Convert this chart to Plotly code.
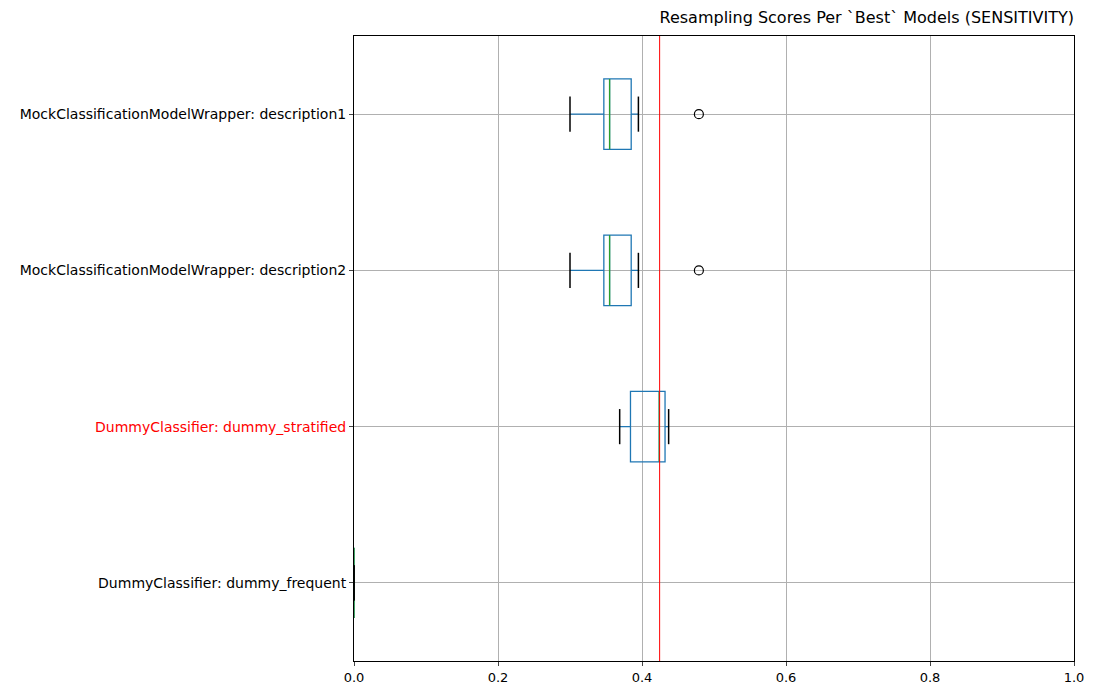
import plotly.graph_objects as go

# Model labels, bottom to top
models = ['DummyClassifier: dummy_frequent', 'DummyClassifier: dummy_stratified',
          'MockClassificationModelWrapper: description2', 'MockClassificationModelWrapper: description1']
lower = [0.0, 0.369, 0.300, 0.300]
q1 = [0.0, 0.384, 0.347, 0.347]
median = [0.0, 0.424, 0.355, 0.355]
q3 = [0.0, 0.432, 0.385, 0.385]
upper = [0.0, 0.437, 0.395, 0.395]
outliers = [[], [], [0.479], [0.479]]
reference_score = 0.4245

pos = list(range(len(models)))
fig = go.Figure()

fig.add_trace(go.Box(
    y=pos, q1=q1, median=median, q3=q3, lowerfence=lower, upperfence=upper,
    orientation='h', width=0.45, whiskerwidth=0, boxpoints=False,
    fillcolor='rgba(0,0,0,0)', line=dict(color='#1f77b4', width=1.3),
    showlegend=False, hoverinfo='skip'))

# medians, caps and outliers
for i in pos:
    fig.add_trace(go.Scatter(x=[median[i], median[i]], y=[i - 0.225, i + 0.225], mode='lines',
                             line=dict(color='#2ca02c', width=1.3), showlegend=False))
    for w in (lower[i], upper[i]):
        fig.add_trace(go.Scatter(x=[w, w], y=[i - 0.1125, i + 0.1125], mode='lines',
                                 line=dict(color='black', width=1.5), showlegend=False))
    if outliers[i]:
        fig.add_trace(go.Scatter(x=outliers[i], y=[i] * len(outliers[i]), mode='markers',
                                 marker=dict(symbol='circle-open', size=9, color='black',
                                             line=dict(width=1.2)), showlegend=False))

fig.add_shape(type='line', x0=reference_score, x1=reference_score, y0=0, y1=1, yref='paper',
              line=dict(color='red', width=1), layer='above')

ticktext = [m if 'stratified' not in m else f'<span style="color:red">{m}</span>' for m in models]

fig.update_layout(
    width=1100, height=700,
    margin=dict(l=342, r=34, t=28, b=47),
    plot_bgcolor='white', paper_bgcolor='white',
    font=dict(family='DejaVu Sans', size=14, color='black'),
    title=dict(text='Resampling Scores Per `Best` Models (SENSITIVITY)', x=1, xref='paper',
               xanchor='right', y=0.995, yanchor='top', font=dict(size=16)),
    xaxis=dict(range=[0, 1], dtick=0.2, tickformat='.1f', showgrid=True, gridcolor='#b0b0b0',
               zeroline=False, showline=True, linecolor='black', mirror=True, ticks='outside',
               ticklen=4, tickfont=dict(size=13)),
    yaxis=dict(range=[-0.5, 3.5], tickvals=pos, ticktext=ticktext, showgrid=True,
               gridcolor='#b0b0b0', zeroline=False, showline=True, linecolor='black',
               mirror=True, ticks='outside', ticklen=4),
)

fig.write_html('out.html')
